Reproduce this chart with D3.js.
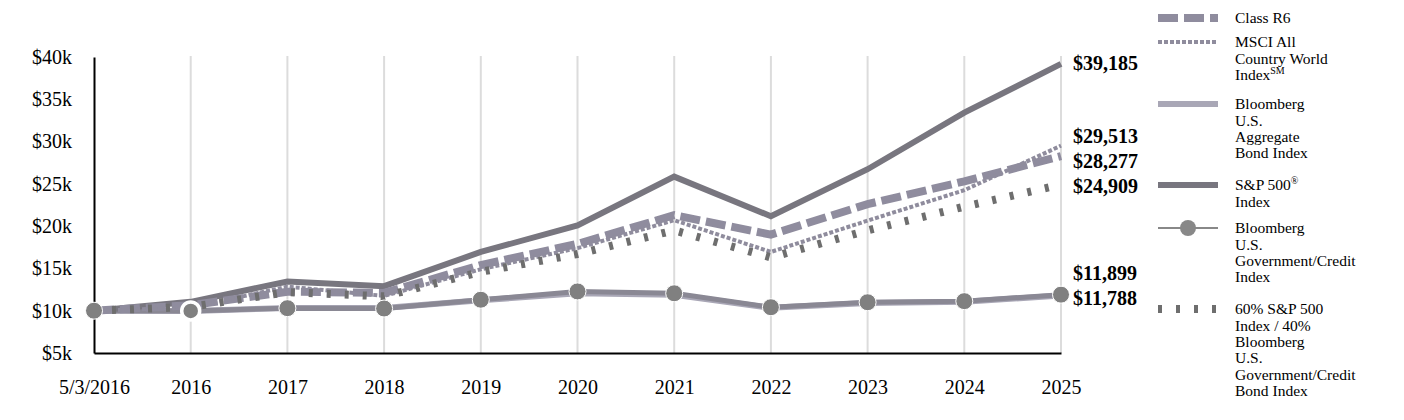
<!DOCTYPE html>
<html>
<head>
<meta charset="utf-8">
<script src="https://cdn.jsdelivr.net/npm/d3@7"></script>
<style>
  body { margin: 0; background: #fff; }
  svg { display: block; font-family: "Liberation Serif", "Times New Roman", serif; }
  .axis text { font-size: 20px; fill: #000; }
  .axis .domain { stroke: #000; stroke-width: 2; }
  .grid line { stroke: #dcdcdc; stroke-width: 2; }
  .end-label { font-size: 20px; font-weight: bold; fill: #000; }
  .legend text { font-size: 15.5px; fill: #000; }
</style>
</head>
<body>
<svg id="chart" width="1404" height="420"></svg>
<script>
// values (growth of $10k)
const categories = ["5/3/2016", "2016", "2017", "2018", "2019", "2020", "2021", "2022", "2023", "2024", "2025"]
const classR6 = [10000, 10650, 12250, 12100, 15400, 17900, 21300, 19000, 22600, 25300, 28277]
const msciAcwi = [10000, 10350, 12850, 11750, 14900, 17400, 20700, 16950, 20650, 24250, 29513]
const bbgAgg = [10000, 9980, 10330, 10330, 11230, 12070, 11880, 10340, 10910, 11050, 11788]
const sp500 = [10000, 11050, 13450, 12900, 16950, 20080, 25850, 21170, 26730, 33420, 39185]
const bbgGovCredit = [10000, 9980, 10300, 10260, 11300, 12280, 12060, 10410, 11000, 11130, 11899]
const blend6040 = [10000, 10450, 12200, 11700, 14600, 16700, 19500, 16300, 19500, 22300, 24909]
const yTicks = [5000, 10000, 15000, 20000, 25000, 30000, 35000, 40000]

const series = [
  { key: "agg", values: bbgAgg, color: "#a9a7b6", width: 6, dash: null,
    legend: ["Bloomberg", "U.S.", "Aggregate", "Bond Index"], ly: 104 },
  { key: "govcredit", values: bbgGovCredit, color: "#8a8894", width: 5, dash: null, marker: true,
    legend: ["Bloomberg", "U.S.", "Government/Credit", "Index"], ly: 228 },
  { key: "sp500", values: sp500, color: "#78767f", width: 6, dash: null,
    legend: ["S&P 500®", "Index"], ly: 185 },
  { key: "r6", values: classR6, color: "#8f8c9e", width: 8, dash: "20,6",
    legend: ["Class R6"], ly: 18 },
  { key: "msci", values: msciAcwi, color: "#8f8c9d", width: 4, dash: "4,2",
    legend: ["MSCI All", "Country World", "Index℠"], ly: 42 },
  { key: "blend", values: blend6040, color: "#6e6e6e", width: 8, dash: "4,14",
    legend: ["60% S&P 500", "Index / 40%", "Bloomberg", "U.S.", "Government/Credit", "Bond Index"], ly: 309 }
]

const svg = d3.select("#chart")

const x = d3.scalePoint()
  .domain(categories)
  .range([94, 1061])

const y = d3.scaleLinear()
  .domain([5000, 40000])
  .range([353, 57])

// vertical grid
svg.append("g")
  .attr("class", "grid")
  .selectAll("line")
  .data(categories.slice(1))
  .enter()
  .append("line")
  .attr("x1", (d) => x(d))
  .attr("x2", (d) => x(d))
  .attr("y1", y(40000) - 1)
  .attr("y2", y(5000))

// axes
svg.append("g")
  .attr("class", "axis")
  .attr("transform", `translate(${x.range()[0]},0)`)
  .call(d3.axisLeft(y)
    .tickValues(yTicks)
    .tickFormat((v) => "$" + v / 1000 + "k")
    .tickSize(0)
    .tickPadding(22))

svg.append("g")
  .attr("class", "axis")
  .attr("transform", `translate(0,${y(5000)})`)
  .call(d3.axisBottom(x)
    .tickSize(0)
    .tickPadding(27))

svg.selectAll(".axis").attr("font-size", null).attr("font-family", null)

// lines
const line = d3.line()
  .x((d, i) => x(categories[i]))
  .y((d) => y(d))

series.forEach((s) => {
  svg.append("path")
    .datum(s.values)
    .attr("fill", "none")
    .attr("stroke", s.color)
    .attr("stroke-width", s.width)
    .attr("stroke-dasharray", s.dash)
    .attr("d", line)
})

// markers for Gov/Credit
const govS = series.find((s) => s.key == "govcredit")
svg.append("g")
  .selectAll("circle")
  .data(govS.values)
  .enter()
  .append("circle")
  .attr("cx", (d, i) => x(categories[i]))
  .attr("cy", (d) => y(d))
  .attr("r", (d, i) => i == 1 ? 9 : 8.5)
  .attr("fill", "#808080")
  .attr("stroke", "#fff")
  .attr("stroke-width", (d, i) => i == 1 ? 3.5 : 1)

// end value labels, spread so they do not overlap
const ends = series.map((s) => ({ v: s.values[s.values.length - 1] }))
ends.sort((a, b) => b.v - a.v)
ends.forEach((e) => e.y = y(e.v))
const gap = 25
for (let k = 0; k < 200; k++) {
  for (let i = 1; i < ends.length; i++) {
    const over = gap - (ends[i].y - ends[i - 1].y)
    if (over > 0) {
      ends[i - 1].y -= over / 2
      ends[i].y += over / 2
    }
  }
  const maxY = 299
  if (ends[ends.length - 1].y > maxY) {
    ends[ends.length - 1].y = maxY
    for (let i = ends.length - 2; i >= 0; i--) {
      ends[i].y = Math.min(ends[i].y, ends[i + 1].y - gap)
    }
  }
}

svg.append("g")
  .selectAll("text")
  .data(ends)
  .enter()
  .append("text")
  .attr("class", "end-label")
  .attr("x", 1073)
  .attr("y", (d) => d.y)
  .attr("dy", "0.3em")
  .text((d) => "$" + d3.format(",")(d.v))

// legend
const legend = svg.append("g").attr("class", "legend")
const lx = 1158, lw = 60, tx = 1235, lh = 16.3

series.forEach((s) => {
  if (s.marker) {
    legend.append("line")
      .attr("x1", lx).attr("x2", lx + lw)
      .attr("y1", s.ly).attr("y2", s.ly)
      .attr("stroke", "#888").attr("stroke-width", 2)
    legend.append("circle")
      .attr("cx", lx + 30).attr("cy", s.ly).attr("r", 8)
      .attr("fill", "#888")
  } else {
    legend.append("line")
      .attr("x1", lx).attr("x2", lx + lw)
      .attr("y1", s.ly).attr("y2", s.ly)
      .attr("stroke", s.color)
      .attr("stroke-width", s.width)
      .attr("stroke-dasharray", s.dash)
  }
  const t = legend.append("text")
    .attr("x", tx)
    .attr("y", s.ly)
  s.legend.forEach((ln, i) => {
    const ts = t.append("tspan")
      .attr("x", tx)
      .attr("y", s.ly + i * lh)
      .attr("dy", "0.35em")
    const m = ln.match(/^(.*?)(℠|®)$/)
    if (m) {
      ts.text(m[1])
      ts.append("tspan")
        .attr("font-size", "10px")
        .attr("dy", "-0.6em")
        .text(m[2] == "℠" ? "SM" : "®")
    } else {
      ts.text(ln)
    }
  })
})
</script>
</body>
</html>
